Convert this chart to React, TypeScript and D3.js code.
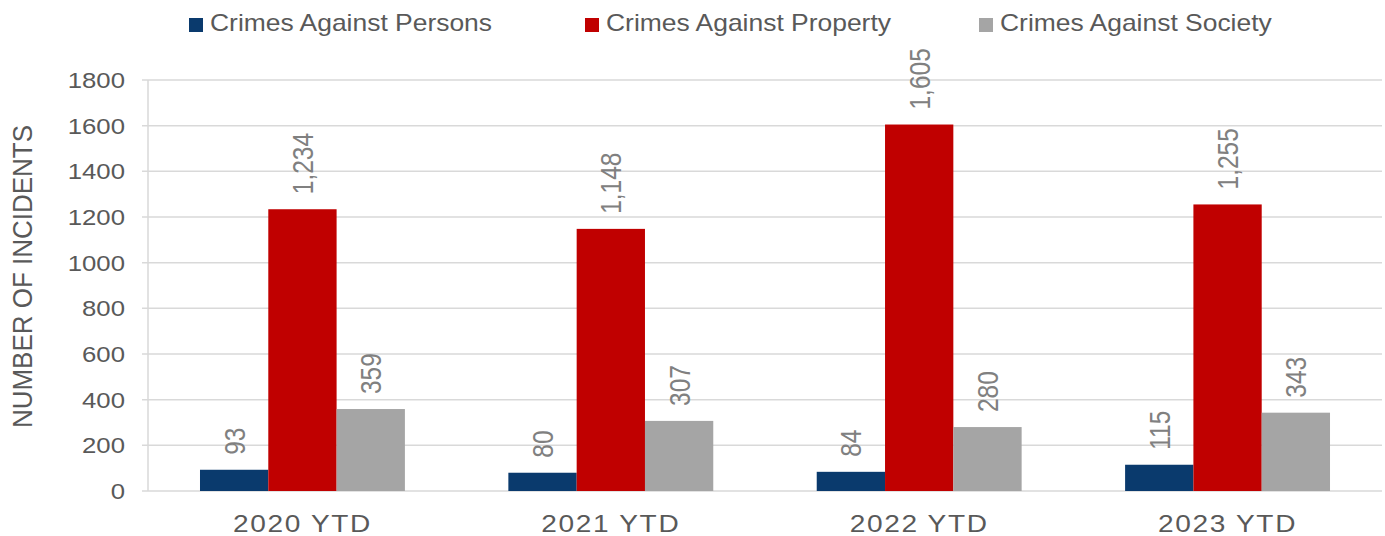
import React from "react";
import * as d3 from "d3";

const categories = ["2020 YTD", "2021 YTD", "2022 YTD", "2023 YTD"];
const seriesNames = ["Crimes Against Persons", "Crimes Against Property", "Crimes Against Society"];
const persons = [93, 80, 84, 115];
const property = [1234, 1148, 1605, 1255];
const society = [359, 307, 280, 343];
const seriesColors = ["#0A3A6D", "#C00000", "#A5A5A5"];
const yTicks = [0, 200, 400, 600, 800, 1000, 1200, 1400, 1600, 1800];

export default function App() {
  const W = 1385, H = 536;
  const left = 148, right = 1382, top = 80, bottom = 491;
  const SX = 1.17;
  const series = [persons, property, society];
  const x0 = d3.scaleBand().domain(categories).range([left, right]).paddingInner(0.3355).paddingOuter(0.1686);
  const x1 = d3.scaleBand().domain(seriesNames).range([0, x0.bandwidth()]);
  const y = d3.scaleLinear().domain([0, 1800]).range([bottom, top]);
  const fmt = d3.format(",");
  const font = "'Liberation Sans', Arial, sans-serif";
  const legendX = [189, 585, 979];
  return (
    <svg width={W} height={H} style={{ position: "absolute", left: 0, top: 0, background: "#fff" }} fontFamily={font}>
      {yTicks.map((t) => (
        <g key={t}>
          <line x1={left - 6} x2={right} y1={y(t)} y2={y(t)} stroke="#D9D9D9" strokeWidth={1.5} />
          <text transform={`translate(125,${y(t)}) scale(${SX},1)`} dy="0.36em" textAnchor="end" fontSize={22} fill="#595959">{t}</text>
        </g>
      ))}
      <line x1={left} x2={left} y1={top} y2={bottom} stroke="#D9D9D9" strokeWidth={1.5} />
      {categories.map((c, i) => (
        <g key={c}>
          {series.map((s, j) => {
            const bx = (x0(c) as number) + (x1(seriesNames[j]) as number);
            const bw = x1.bandwidth();
            const v = s[i];
            return (
              <g key={j}>
                <rect x={bx} y={y(v)} width={bw} height={bottom - y(v)} fill={seriesColors[j]} />
                <text
                  transform={`translate(${bx + bw / 2},${y(v) - 15}) scale(1.2,1) rotate(-90)`}
                  dy="0.36em"
                  textAnchor="start"
                  fontSize={24.5}
                  fill="#808080"
                >
                  {fmt(v)}
                </text>
              </g>
            );
          })}
          <text
            transform={`translate(${(x0(c) as number) + x0.bandwidth() / 2},532) scale(${SX},1)`}
            textAnchor="middle"
            fontSize={24}
            letterSpacing={1.4}
            fill="#595959"
          >
            {c}
          </text>
        </g>
      ))}
      <text transform={`translate(32,276.5) scale(1.05,1) rotate(-90)`} textAnchor="middle" fontSize={26} fill="#595959">NUMBER OF INCIDENTS</text>
      {seriesNames.map((n, j) => (
        <g key={n}>
          <rect x={legendX[j]} y={18} width={14} height={14} fill={seriesColors[j]} />
          <text transform={`translate(${legendX[j] + 21},31) scale(1.15,1)`} fontSize={23} fill="#595959">{n}</text>
        </g>
      ))}
    </svg>
  );
}
